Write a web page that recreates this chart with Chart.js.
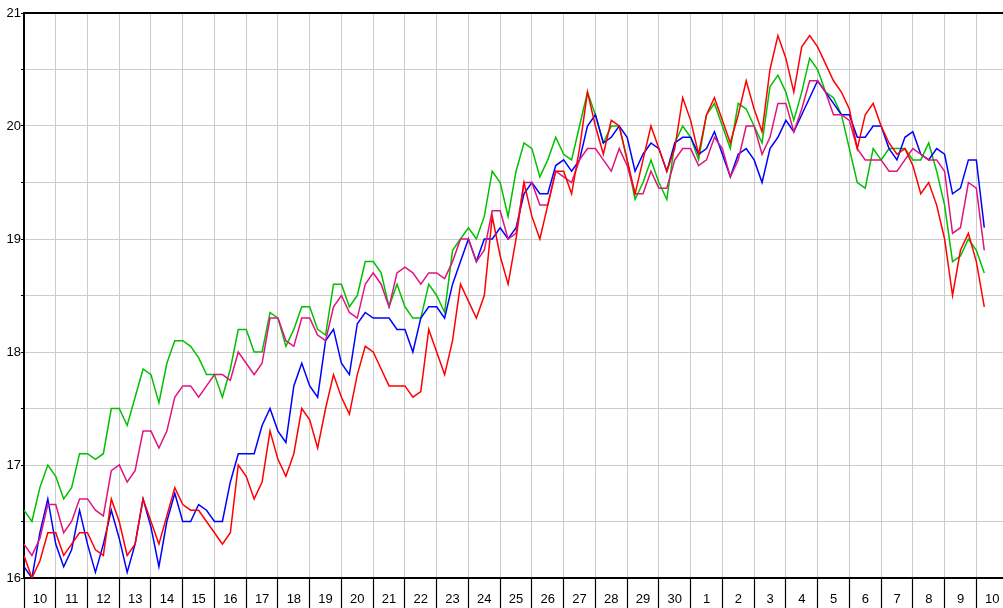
<!DOCTYPE html>
<html>
<head>
<meta charset="utf-8">
<script src="https://cdn.jsdelivr.net/npm/chart.js@4.4.0/dist/chart.umd.min.js"></script>
<style>
  html, body { margin: 0; padding: 0; background: #fff; overflow: hidden; }
  #wrap { width: 1003px; height: 608px; position: relative; }
</style>
</head>
<body>
<div id="wrap"><canvas id="chart"></canvas></div>
<script>
// day labels under the x axis (one per day, label sits between grid lines)
const dayLabels = ["10","11","12","13","14","15","16","17","18","19","20","21","22","23","24",
  "25","26","27","28","29","30","1","2","3","4","5","6","7","8","9","10"];
const yTicks = [16, 17, 18, 19, 20, 21];
const samplesPerDay = 4; // readings every 6 hours

const green = [
  16.6,16.5,16.8,17.0, 16.9,16.7,16.8,17.1, 17.1,17.05,17.1,17.5, 17.5,17.35,17.6,17.85,
  17.8,17.55,17.9,18.1, 18.1,18.05,17.95,17.8, 17.8,17.6,17.85,18.2, 18.2,18.0,18.0,18.35,
  18.3,18.05,18.2,18.4, 18.4,18.2,18.15,18.6, 18.6,18.4,18.5,18.8, 18.8,18.7,18.4,18.6,
  18.4,18.3,18.3,18.6, 18.5,18.35,18.9,19.0, 19.1,19.0,19.2,19.6, 19.5,19.2,19.6,19.85,
  19.8,19.55,19.7,19.9, 19.75,19.7,20.0,20.3, 20.1,19.85,20.0,20.0, 19.7,19.35,19.5,19.7,
  19.5,19.35,19.85,20.0, 19.9,19.7,20.1,20.2, 20.0,19.8,20.2,20.15, 20.0,19.85,20.35,20.45,
  20.3,20.05,20.3,20.6, 20.5,20.3,20.25,20.1, 19.8,19.5,19.45,19.8, 19.7,19.8,19.8,19.8,
  19.7,19.7,19.85,19.6, 19.3,18.8,18.85,19.0, 18.9,18.7
];
const blue = [
  16.1,16.0,16.4,16.7, 16.3,16.1,16.25,16.6, 16.3,16.05,16.3,16.6, 16.35,16.05,16.3,16.7,
  16.45,16.1,16.5,16.75, 16.5,16.5,16.65,16.6, 16.5,16.5,16.85,17.1, 17.1,17.1,17.35,17.5,
  17.3,17.2,17.7,17.9, 17.7,17.6,18.1,18.2, 17.9,17.8,18.25,18.35, 18.3,18.3,18.3,18.2,
  18.2,18.0,18.3,18.4, 18.4,18.3,18.6,18.8, 19.0,18.8,19.0,19.0, 19.1,19.0,19.1,19.4,
  19.5,19.4,19.4,19.65, 19.7,19.6,19.7,20.0, 20.1,19.85,19.9,20.0, 19.9,19.6,19.75,19.85,
  19.8,19.6,19.85,19.9, 19.9,19.75,19.8,19.95, 19.75,19.55,19.75,19.8, 19.7,19.5,19.8,19.9,
  20.05,19.95,20.1,20.25, 20.4,20.3,20.2,20.1, 20.1,19.9,19.9,20.0, 20.0,19.8,19.7,19.9,
  19.95,19.75,19.7,19.8, 19.75,19.4,19.45,19.7, 19.7,19.1
];
const magenta = [
  16.3,16.2,16.35,16.65, 16.65,16.4,16.5,16.7, 16.7,16.6,16.55,16.95, 17.0,16.85,16.95,17.3,
  17.3,17.15,17.3,17.6, 17.7,17.7,17.6,17.7, 17.8,17.8,17.75,18.0, 17.9,17.8,17.9,18.3,
  18.3,18.1,18.05,18.3, 18.3,18.15,18.1,18.4, 18.5,18.35,18.3,18.6, 18.7,18.6,18.4,18.7,
  18.75,18.7,18.6,18.7, 18.7,18.65,18.8,19.0, 19.0,18.8,18.9,19.25, 19.25,19.0,19.05,19.5,
  19.5,19.3,19.3,19.6, 19.55,19.5,19.7,19.8, 19.8,19.7,19.6,19.8, 19.65,19.4,19.4,19.6,
  19.45,19.45,19.7,19.8, 19.8,19.65,19.7,19.9, 19.8,19.55,19.7,20.0, 20.0,19.75,19.9,20.2,
  20.2,19.95,20.15,20.4, 20.4,20.3,20.1,20.1, 20.05,19.8,19.7,19.7, 19.7,19.6,19.6,19.7,
  19.8,19.75,19.7,19.7, 19.6,19.05,19.1,19.5, 19.45,18.9
];
const red = [
  16.2,16.0,16.15,16.4, 16.4,16.2,16.3,16.4, 16.4,16.25,16.2,16.7, 16.5,16.2,16.3,16.7,
  16.5,16.3,16.55,16.8, 16.65,16.6,16.6,16.5, 16.4,16.3,16.4,17.0, 16.9,16.7,16.85,17.3,
  17.05,16.9,17.1,17.5, 17.4,17.15,17.5,17.8, 17.6,17.45,17.8,18.05, 18.0,17.85,17.7,17.7,
  17.7,17.6,17.65,18.2, 18.0,17.8,18.1,18.6, 18.45,18.3,18.5,19.2, 18.85,18.6,19.0,19.5,
  19.2,19.0,19.3,19.6, 19.6,19.4,19.8,20.3, 20.0,19.75,20.05,20.0, 19.7,19.4,19.7,20.0,
  19.8,19.6,19.8,20.25, 20.05,19.75,20.1,20.25, 20.05,19.85,20.1,20.4, 20.15,19.95,20.5,20.8,
  20.6,20.3,20.7,20.8, 20.7,20.55,20.4,20.3, 20.15,19.8,20.1,20.2, 20.0,19.85,19.75,19.8,
  19.65,19.4,19.5,19.3, 19.0,18.5,18.9,19.05, 18.8,18.4
];

const xMax = 30.84;
const labelFont = { family: 'Arial, "Liberation Sans", sans-serif', size: 13 };
const toPoints = vals => vals.map((v, i) => ({ x: i / samplesPerDay, y: v }));

function series(data, color) {
  return {
    data: toPoints(data),
    borderColor: color,
    borderWidth: 1.5,
    pointRadius: 0,
    tension: 0,
    fill: false
  };
}

new Chart(document.getElementById("chart"), {
  type: "line",
  data: {
    datasets: [
      series(red, "#ff0000"),
      series(magenta, "#e0147e"),
      series(blue, "#0000ff"),
      series(green, "#00c000")
    ]
  },
  options: {
    responsive: true,
    maintainAspectRatio: false,
    animation: false,
    layout: { padding: 0 },
    plugins: { legend: { display: false }, tooltip: { enabled: false } },
    scales: {
      x: {
        type: "linear",
        position: "bottom",
        min: 0,
        max: xMax,
        afterBuildTicks: axis => { axis.ticks = dayLabels.map((_, i) => ({ value: i })); },
        afterFit: axis => { axis.height = 30; },
        ticks: {
          autoSkip: false,
          maxRotation: 0,
          labelOffset: 15.9,
          padding: -16,
          color: "#000",
          font: labelFont,
          callback: (value, index) => dayLabels[index]
        },
        grid: { color: "#cccccc", lineWidth: 1, tickLength: 30, tickColor: "#000", tickWidth: 1.2 },
        border: { color: "#000", width: 2 }
      },
      xTop: {
        type: "linear",
        position: "top",
        min: 0,
        max: xMax,
        afterFit: axis => { axis.height = 13; },
        ticks: { display: false },
        grid: { display: false },
        border: { display: true, color: "#000", width: 2 }
      },
      y: {
        min: 16,
        max: 21,
        afterFit: axis => { axis.width = 24; },
        ticks: {
          stepSize: 0.5,
          padding: 0,
          color: "#000",
          font: labelFont,
          callback: v => yTicks.includes(v) ? String(v) : ""
        },
        grid: { color: "#cccccc", lineWidth: 1, tickLength: 3, tickColor: "#000" },
        border: { color: "#000", width: 2 }
      }
    }
  }
});
</script>
</body>
</html>
